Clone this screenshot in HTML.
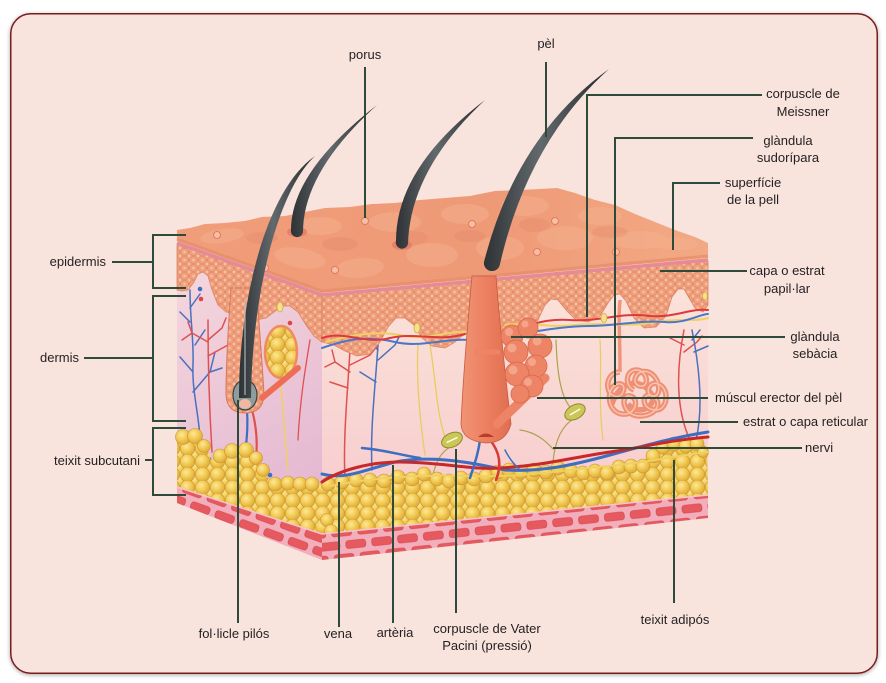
<!DOCTYPE html>
<html><head><meta charset="utf-8"><style>
html,body{margin:0;padding:0;background:#fff;}
svg{display:block}
text{font-family:"Liberation Sans",Arial,sans-serif;font-size:13px;fill:#231f20}
</style></head><body>
<svg width="886" height="683" viewBox="0 0 886 683" xmlns="http://www.w3.org/2000/svg">
<defs>
 <filter id="sh" x="-3%" y="-3%" width="106%" height="106%"><feDropShadow dx="0" dy="1" stdDeviation="2" flood-color="#000" flood-opacity="0.35"/></filter>
 <pattern id="cells" width="9" height="8" patternUnits="userSpaceOnUse">
  <rect width="9" height="8" fill="#e58a66"/>
  <g fill="#f0a27f" stroke="#dd8260" stroke-width=".5">
   <circle cx="0" cy="0" r="3.8"/><circle cx="9" cy="0" r="3.8"/><circle cx="0" cy="8" r="3.8"/><circle cx="9" cy="8" r="3.8"/><circle cx="4.5" cy="4" r="3.8"/>
  </g>
  <g fill="#f8c2a6"><circle cx="4.5" cy="4" r="1.2"/><circle cx="0" cy="0" r="1.2"/><circle cx="9" cy="0" r="1.2"/><circle cx="0" cy="8" r="1.2"/><circle cx="9" cy="8" r="1.2"/></g>
 </pattern>
 <radialGradient id="fatg" cx=".4" cy=".35" r=".65">
  <stop offset="0" stop-color="#fce89a"/><stop offset=".55" stop-color="#f2ca52"/><stop offset="1" stop-color="#dcaa3a"/>
 </radialGradient>
 <pattern id="fat" width="15" height="13" patternUnits="userSpaceOnUse">
  <rect width="15" height="13" fill="#d8a838"/>
  <g fill="url(#fatg)" stroke="#c99332" stroke-width=".6">
   <circle cx="0" cy="0" r="7.3"/><circle cx="15" cy="0" r="7.3"/><circle cx="0" cy="13" r="7.3"/><circle cx="15" cy="13" r="7.3"/><circle cx="7.5" cy="6.5" r="7.3"/>
  </g>
 </pattern>
 <pattern id="musF" width="26" height="26" patternUnits="userSpaceOnUse" patternTransform="rotate(-6)">
  <rect width="26" height="26" fill="#f2afbb"/>
  <g fill="#e65a5f" stroke="#cf4049" stroke-width=".6">
   <rect x="1" y="2" width="20" height="8" rx="3"/><rect x="14" y="15" width="20" height="8" rx="3"/><rect x="-12" y="15" width="20" height="8" rx="3"/>
  </g>
 </pattern>
 <pattern id="musL" width="26" height="26" patternUnits="userSpaceOnUse" patternTransform="rotate(20)">
  <rect width="26" height="26" fill="#f2afbb"/>
  <g fill="#e65a5f" stroke="#cf4049" stroke-width=".6">
   <rect x="1" y="2" width="20" height="8" rx="3"/><rect x="14" y="15" width="20" height="8" rx="3"/><rect x="-12" y="15" width="20" height="8" rx="3"/>
  </g>
 </pattern>
 <linearGradient id="lf" gradientUnits="userSpaceOnUse" x1="177" y1="280" x2="322" y2="480">
  <stop offset="0" stop-color="#f4d6dc"/><stop offset="1" stop-color="#e4b8d2"/>
 </linearGradient>
 <linearGradient id="ff" gradientUnits="userSpaceOnUse" x1="0" y1="300" x2="0" y2="520">
  <stop offset="0" stop-color="#fbe1d9"/><stop offset="1" stop-color="#f6cacc"/>
 </linearGradient>
 <linearGradient id="hg" x1="0" y1="0" x2="1" y2="0">
  <stop offset="0" stop-color="#2e3235"/><stop offset=".45" stop-color="#62696d"/><stop offset="1" stop-color="#25282a"/>
 </linearGradient>
 <linearGradient id="tg" gradientUnits="userSpaceOnUse" x1="177" y1="0" x2="708" y2="0">
  <stop offset="0" stop-color="#f09d79"/><stop offset=".6" stop-color="#ef9a76"/><stop offset="1" stop-color="#f3a985"/>
 </linearGradient>
 <linearGradient id="folg" x1="0" y1="0" x2="1" y2="0">
  <stop offset="0" stop-color="#f09474"/><stop offset=".5" stop-color="#ec8060"/><stop offset="1" stop-color="#e06e50"/>
 </linearGradient>
</defs>

<!-- card -->
<rect x="10.75" y="13.75" width="866.5" height="659.5" rx="20" fill="#f8e3dd" stroke="#7a1c1c" stroke-width="1.5" filter="url(#sh)"/>

<!-- faces -->
<polygon points="177,240 322,293 322,560 177,503" fill="url(#lf)"/>
<polygon points="322,293 708,258 708,518 322,560" fill="url(#ff)"/>

<!-- left face vessels -->
<g fill="none" stroke-linecap="round">
 <path d="M200,437 C198,410 192,390 193,365 C194,340 190,320 190,290 M193,372 L180,357 M193,392 L210,372 L215,352 M190,322 L180,312 M190,308 L200,294 M195,345 L205,330 M210,372 L222,368" stroke="#4a70c0" stroke-width="1.5"/>
 <path d="M212,452 C210,420 208,380 208,320 M208,342 L192,333 L182,340 M192,333 L188,322 M208,340 L222,328 M208,356 L228,345 L236,350 M222,328 L226,318" stroke="#e05050" stroke-width="1.5"/>
 <path d="M247,410 C248,425 247,435 246,446" stroke="#3e6ec0" stroke-width="2.2"/>
 <path d="M252,410 C256,425 258,440 256,458" stroke="#e05050" stroke-width="2.2"/>
 <path d="M280,372 C282,400 284,430 288,470" stroke="#f0d060" stroke-width="1.5"/>
 <path d="M310,340 C305,370 300,400 298,440" stroke="#e05050" stroke-width="1.3"/>
</g>
<g>
 <circle cx="200" cy="289" r="2.3" fill="#3e6ec0"/><circle cx="201" cy="299" r="2.3" fill="#e04545"/>
 <circle cx="290" cy="323" r="2.3" fill="#e04545"/><circle cx="288" cy="330" r="2.3" fill="#3e6ec0"/>
 <circle cx="209" cy="459" r="2.3" fill="#3e6ec0"/><circle cx="217" cy="457" r="2.3" fill="#e04545"/>
 <circle cx="265" cy="468" r="2.3" fill="#e04545"/><circle cx="270" cy="475" r="2.3" fill="#3e6ec0"/>
</g>

<!-- front dermis vessels / nerves -->
<g fill="none" stroke-linecap="round">
 <path d="M345,480 C343,440 347,400 350,350 M350,372 L335,362 L325,367 M348,388 L330,382 M350,365 L370,355 L378,345 M335,362 L332,350" stroke="#e05050" stroke-width="1.5"/>
 <path d="M372,470 C370,430 375,390 378,345 M378,360 L395,345 M376,382 L360,372 M378,350 L365,338 M395,345 L400,335" stroke="#4a70c0" stroke-width="1.5"/>
 <path d="M418,345 C416,380 420,420 425,455 M430,345 C436,380 436,410 445,437" stroke="#e8cc60" stroke-width="1.3"/>
 <path d="M452,446 C440,452 436,462 432,478 M575,418 C562,425 555,440 553,462 M570,407 C560,395 557,370 556,340 M553,449 C545,440 535,432 520,430" stroke="#aaa24e" stroke-width="1.2"/>
 <path d="M600,340 C602,370 598,400 603,440" stroke="#e8cc60" stroke-width="1.2"/>
 <path d="M684,330 C676,370 676,410 690,440 M684,345 L670,338 M684,352 L697,342 L702,336" stroke="#e05050" stroke-width="1.5"/>
 <path d="M692,330 C700,370 703,410 696,440 M692,340 L700,330 M694,352 L708,346" stroke="#4a70c0" stroke-width="1.5"/>
</g>

<!-- sweat gland -->
<path d="M620,300 C618,320 620,330 620,372" fill="none" stroke="#f0957c" stroke-width="3.5"/>
<g fill="none">
 <path d="M620,372 C606,372 604,392 614,396 C624,400 628,382 618,384 C606,386 606,412 622,414 C636,416 640,398 630,396 C620,394 622,416 640,416 C656,416 664,402 652,396 C642,391 640,410 656,410 C668,410 670,388 658,384 C648,380 644,396 654,396 C662,396 660,376 648,372 C636,368 630,384 640,386 C650,388 648,370 636,370 C626,370 624,386 634,390 M612,404 C620,380 640,378 650,392 C660,404 640,418 628,404" stroke="#ef8f74" stroke-width="5.5"/>
 <path d="M620,372 C606,372 604,392 614,396 C624,400 628,382 618,384 C606,386 606,412 622,414 C636,416 640,398 630,396 C620,394 622,416 640,416 C656,416 664,402 652,396 C642,391 640,410 656,410 C668,410 670,388 658,384 C648,380 644,396 654,396 C662,396 660,376 648,372 C636,368 630,384 640,386 C650,388 648,370 636,370 C626,370 624,386 634,390" stroke="#f9c6b2" stroke-width="1.4"/>
</g>

<!-- Pacini corpuscles -->
<g transform="translate(452,440) rotate(-25)"><ellipse rx="11" ry="7" fill="#cbc658" stroke="#8e8a30"/><line x1="-6" x2="6" y1="0" y2="0" stroke="#fffbe0" stroke-width="1.5"/></g>
<g transform="translate(575,412) rotate(-30)"><ellipse rx="11" ry="7" fill="#cbc658" stroke="#8e8a30"/><line x1="-6" x2="6" y1="0" y2="0" stroke="#fffbe0" stroke-width="1.5"/></g>

<!-- fat -->
<polygon points="322,485 330,478 340,480 350,476 362,480 372,476 385,478 397,472 410,476 422,470 435,476 447,478 460,474 472,476 485,472 497,468 507,466 520,469 533,466 545,468 557,464 570,468 582,470 594,468 606,470 618,464 630,462 642,463 652,452 660,443 672,440 684,442 695,440 707,447 708,495 322,534" fill="url(#fat)"/>
<polygon points="177,437 185,431 193,432 201,437 207,448 211,460 218,455 226,449 236,447 247,446 256,452 262,465 268,478 277,482 288,479 300,480 310,479 318,482 322,485 322,534 177,487" fill="url(#fat)"/>
<g fill="url(#fatg)" stroke="#c99332" stroke-width=".6">
 <circle cx="183" cy="437" r="7.5"/><circle cx="195" cy="436" r="7.5"/><circle cx="204" cy="446" r="6.5"/><circle cx="220" cy="456" r="7"/><circle cx="232" cy="451" r="7.5"/><circle cx="246" cy="450" r="7.5"/><circle cx="256" cy="458" r="6.5"/><circle cx="263" cy="470" r="6.5"/><circle cx="275" cy="484" r="7"/><circle cx="288" cy="483" r="7"/><circle cx="300" cy="484" r="7"/><circle cx="312" cy="484" r="7"/>
 <circle cx="328" cy="484" r="7"/><circle cx="342" cy="482" r="7"/><circle cx="356" cy="480" r="7"/><circle cx="370" cy="480" r="7"/><circle cx="384" cy="481" r="7"/><circle cx="398" cy="477" r="7"/><circle cx="412" cy="479" r="7"/><circle cx="424" cy="474" r="7"/><circle cx="437" cy="479" r="7"/><circle cx="449" cy="481" r="7"/><circle cx="461" cy="478" r="7"/><circle cx="474" cy="479" r="7"/><circle cx="486" cy="476" r="7"/><circle cx="498" cy="472" r="7"/><circle cx="509" cy="470" r="7"/><circle cx="521" cy="472" r="7"/><circle cx="534" cy="470" r="7"/><circle cx="546" cy="472" r="7"/><circle cx="558" cy="468" r="7"/><circle cx="571" cy="471" r="7"/><circle cx="583" cy="473" r="7"/><circle cx="595" cy="471" r="7"/><circle cx="607" cy="473" r="7"/><circle cx="619" cy="467" r="7"/><circle cx="631" cy="466" r="7"/><circle cx="643" cy="466" r="7"/><circle cx="653" cy="456" r="7"/><circle cx="663" cy="447" r="7"/><circle cx="674" cy="444" r="7"/><circle cx="686" cy="446" r="7"/><circle cx="697" cy="444" r="7"/><circle cx="703" cy="452" r="5.5"/>
 <circle cx="327" cy="520" r="6.5"/><circle cx="331" cy="531" r="6.5"/>
</g>

<!-- lower vessels -->
<g fill="none" stroke-linecap="round">
 <path d="M330,486 C370,478 420,474 470,476 C520,478 560,470 610,466 C650,462 680,455 708,452" stroke="#f0d060" stroke-width="2"/>
 <path d="M322,474 C345,480 365,470 395,462 C430,455 470,462 505,470 C540,472 570,466 610,455 C640,447 670,438 708,432" stroke="#3e6ec0" stroke-width="3"/>
 <path d="M362,448 C385,450 400,455 420,458" stroke="#3e6ec0" stroke-width="2.5"/>
 <path d="M322,482 C340,470 370,462 400,462 C440,462 470,470 500,468 C540,466 570,458 610,452 C640,448 670,440 708,437" stroke="#c8282a" stroke-width="3"/>
 <path d="M480,440 C478,455 474,465 470,478" stroke="#3e6ec0" stroke-width="2.5"/>
 <path d="M490,440 C500,452 502,465 496,480" stroke="#d83a3a" stroke-width="2.5"/>
 <path d="M505,450 C510,460 515,465 520,470" stroke="#3e6ec0" stroke-width="1.5"/>
</g>

<!-- muscle -->
<polygon points="322,534 708,495 708,518 322,560" fill="url(#musF)"/>
<polygon points="177,487 322,534 322,560 177,503" fill="url(#musL)"/>
<path d="M177,487 L322,534 L708,495" fill="none" stroke="#f6c4cd" stroke-width="1.5"/>

<!-- epidermis -->
<path d="M177,244 L322,296 L322,342 L314,336 L306,325 L298,312 L290,306 L282,306 L274,312 L266,318 L256,320 L246,318 L236,314 L226,312 L218,305 L212,290 L208,276 L203,272 L198,274 L194,282 L188,290 L182,291 L177,290 Z" fill="url(#cells)" stroke="#dc8463" stroke-width=".8" stroke-linejoin="round"/>
<path d="M322,296 L708,261 L708,305 L703,312 L695,308 L688,296 L684,289 L678,289 L672,297 L666,316 L656,327 L644,328 L634,318 L626,301 L620,294 L614,295 L608,303 L600,316 L588,322 L576,320 L566,310 L558,300 L551,299 L545,305 L538,320 L528,330 L515,331 L500,332 L480,332 L470,332 L462,336 L455,342 L445,348 L432,346 L422,338 L414,325 L405,318 L396,318 L388,327 L380,342 L370,354 L357,356 L345,351 L334,345 L322,342 Z" fill="url(#cells)" stroke="#dc8463" stroke-width=".8" stroke-linejoin="round"/>

<!-- top surface -->
<polygon points="177,230 190,228 205,224 225,223 245,221 262,217 285,216 305,212 325,208 350,207 372,204 395,203 420,200 445,198 470,196 495,191 520,190 540,189 557,188 575,193 595,200 615,205 635,214 655,222 675,230 695,237 708,243 708,258 322,293 177,241" fill="url(#tg)"/>
<g fill="#f5b391" opacity=".45">
 <ellipse cx="222" cy="236" rx="22" ry="7" transform="rotate(-8 222 236)"/>
 <ellipse cx="300" cy="258" rx="26" ry="10" transform="rotate(10 300 258)"/>
 <ellipse cx="320" cy="226" rx="22" ry="9"/>
 <ellipse cx="360" cy="268" rx="24" ry="10" transform="rotate(-5 360 268)"/>
 <ellipse cx="395" cy="222" rx="26" ry="10"/>
 <ellipse cx="432" cy="255" rx="26" ry="12"/>
 <ellipse cx="465" cy="214" rx="24" ry="10"/>
 <ellipse cx="500" cy="248" rx="24" ry="12"/>
 <ellipse cx="525" cy="206" rx="24" ry="10"/>
 <ellipse cx="565" cy="238" rx="28" ry="12"/>
 <ellipse cx="600" cy="216" rx="22" ry="9"/>
 <ellipse cx="640" cy="240" rx="28" ry="9"/>
 <ellipse cx="676" cy="244" rx="22" ry="6"/>
</g>
<g fill="#e0856a" opacity=".3">
 <ellipse cx="262" cy="238" rx="16" ry="6"/>
 <ellipse cx="340" cy="244" rx="18" ry="7"/>
 <ellipse cx="412" cy="238" rx="16" ry="7"/>
 <ellipse cx="470" cy="236" rx="16" ry="6"/>
 <ellipse cx="535" cy="225" rx="16" ry="7"/>
 <ellipse cx="610" cy="232" rx="18" ry="6"/>
</g>
<path d="M177,239 L322,291 L708,256" fill="none" stroke="#e78f6b" stroke-width="3" opacity=".8"/>
<path d="M177,243 L322,295 L708,260" fill="none" stroke="#e48a98" stroke-width="3.5"/>

<!-- upper plexus -->
<g fill="none" stroke-linecap="round" stroke-width="2">
 <path d="M326,342 C350,335 380,330 405,336 C430,340 450,330 470,332 M505,325 C530,322 550,328 575,325 C600,322 630,328 655,322 C680,318 695,322 708,318" stroke="#f0d060"/>
 <path d="M322,348 C345,340 365,335 395,342 C420,348 445,338 470,340 M505,336 C530,333 560,326 590,326 C615,326 640,320 665,322 C685,324 700,314 708,314" stroke="#4a78c8"/>
 <path d="M322,338 C345,330 365,345 390,338 C415,332 440,342 465,334 M505,330 C530,326 545,318 570,320 C600,322 620,312 650,316 C675,318 690,308 708,310" stroke="#dc3a3a"/>
</g>
<g fill="#f6e08a" stroke="#c9a83a" stroke-width=".7">
 <ellipse cx="417" cy="328" rx="3" ry="5"/><ellipse cx="280" cy="307" rx="3" ry="5"/><ellipse cx="604" cy="318" rx="3" ry="4.5"/><ellipse cx="705" cy="296" rx="2.5" ry="4"/>
</g>

<!-- left follicle -->
<path d="M231,288 L257,288 C259,330 263,370 264,395 Q263,413 245,413 Q227,413 226,395 C226,370 228,330 231,288 Z" fill="url(#cells)" stroke="#d9785a" stroke-width="1"/>
<ellipse cx="245" cy="395" rx="12" ry="15" fill="#8d9c9c" stroke="#3a4244" stroke-width="1.2"/>
<ellipse cx="245" cy="404" rx="6" ry="5" fill="#f0b8a0"/>
<!-- left sebaceous gland -->
<ellipse cx="281" cy="352" rx="16" ry="26" fill="url(#fat)" stroke="#ee8c5f" stroke-width="2.5"/>
<path d="M262,398 L298,368" stroke="#ee6e55" stroke-width="6" stroke-linecap="round"/>

<!-- big follicle -->
<path d="M472,276 L496,276 C500,330 506,380 511,424 Q506,443 486,443 Q462,441 461,424 C463,380 467,330 472,276 Z" fill="url(#folg)" stroke="#c95a3e" stroke-width=".8"/>
<path d="M478,437 Q486,430 494,437" fill="#b83c2c"/>
<path d="M478,352 L500,352" stroke="#ee8466" stroke-width="5"/>
<circle cx="478" cy="352" r="4" fill="#ee8466"/>
<path d="M497,424 L545,378" stroke="#ee8466" stroke-width="9" stroke-linecap="round"/>
<g fill="#ee8466" stroke="#d8684a" stroke-width=".8">
 <circle cx="512" cy="336" r="11"/><circle cx="528" cy="328" r="10"/><circle cx="540" cy="346" r="12"/><circle cx="516" cy="352" r="12"/><circle cx="536" cy="366" r="11"/><circle cx="517" cy="374" r="12"/><circle cx="532" cy="386" r="11"/><circle cx="520" cy="394" r="9"/>
</g>
<g fill="#f6ae92" opacity=".8">
 <circle cx="509" cy="332" r="4"/><circle cx="525" cy="324" r="3.5"/><circle cx="537" cy="341" r="4.5"/><circle cx="512" cy="348" r="4.5"/><circle cx="532" cy="362" r="4"/><circle cx="513" cy="370" r="4.5"/><circle cx="528" cy="382" r="4"/>
</g>

<!-- pores -->
<g fill="#f7c0a4" stroke="#e37a62" stroke-width="1">
 <circle cx="217" cy="235" r="3.5"/><circle cx="265" cy="268" r="3.5"/><circle cx="335" cy="270" r="3.5"/><circle cx="365" cy="221" r="3.5"/><circle cx="472" cy="224" r="3.5"/><circle cx="555" cy="221" r="3.5"/><circle cx="537" cy="252" r="3.5"/><circle cx="616" cy="252" r="3.5"/>
</g>
<ellipse cx="297" cy="232" rx="10" ry="5" fill="#e5806a"/>
<ellipse cx="402" cy="245" rx="10" ry="5" fill="#e5806a"/>

<!-- hairs -->
<path d="M377,105 Q291,172 291,230 A6,6 0 0 0 303,232 Q303,172 377,105 Z" fill="url(#hg)"/>
<path d="M485,100 Q396,168 396,241 A6,6 0 0 0 408,244 Q410,170 485,100 Z" fill="url(#hg)"/>
<path d="M609,69 Q516,136 484,262 A8,8 0 0 0 500,264 Q528,142 609,69 Z" fill="url(#hg)"/>
<path d="M315,156 C266,190 239,300 239,398 L251,398 C252,300 276,192 315,156 Z" fill="url(#hg)"/>
<path d="M245,300 L245,395" stroke="#b9c4c6" stroke-width="1.5" opacity=".7"/>

<!-- label lines -->
<g fill="none" stroke="#2e4a3a" stroke-width="2">
 <path d="M365,67 V218"/>
 <path d="M546,62 V137"/>
 <path d="M762,95 H587 V317"/>
 <path d="M753,138 H615 V385"/>
 <path d="M720,183 H673 V250"/>
 <path d="M660,271 H747"/>
 <path d="M511,337 H785"/>
 <path d="M537,398 H708"/>
 <path d="M640,422 H738"/>
 <path d="M553,448 H802"/>
 <path d="M674,460 V603"/>
 <path d="M456,449 V613"/>
 <path d="M393,465 V623"/>
 <path d="M339,482 V627"/>
 <path d="M238,400 V623"/>
 <path d="M186,235 H153 V288 H186 M112,262 H153"/>
 <path d="M186,296 H153 V421 H186 M84,358 H153"/>
 <path d="M186,428 H153 V495 H186 M145,460 H153"/>
</g>

<!-- labels -->
<text x="365" y="59" text-anchor="middle">porus</text>
<text x="546" y="48" text-anchor="middle">pèl</text>
<text x="803" y="98" text-anchor="middle">corpuscle de</text>
<text x="803" y="116" text-anchor="middle">Meissner</text>
<text x="788" y="145" text-anchor="middle">glàndula</text>
<text x="788" y="162" text-anchor="middle">sudorípara</text>
<text x="753" y="187" text-anchor="middle">superfície</text>
<text x="753" y="204" text-anchor="middle">de la pell</text>
<text x="787" y="275" text-anchor="middle">capa o estrat</text>
<text x="787" y="293" text-anchor="middle">papil·lar</text>
<text x="815" y="341" text-anchor="middle">glàndula</text>
<text x="815" y="358" text-anchor="middle">sebàcia</text>
<text x="715" y="402">múscul erector del pèl</text>
<text x="743" y="426">estrat o capa reticular</text>
<text x="805" y="452">nervi</text>
<text x="675" y="624" text-anchor="middle">teixit adipós</text>
<text x="487" y="633" text-anchor="middle">corpuscle de Vater</text>
<text x="487" y="650" text-anchor="middle">Pacini (pressió)</text>
<text x="395" y="637" text-anchor="middle">artèria</text>
<text x="338" y="638" text-anchor="middle">vena</text>
<text x="234" y="638" text-anchor="middle">fol·licle pilós</text>
<text x="106" y="266" text-anchor="end">epidermis</text>
<text x="79" y="362" text-anchor="end">dermis</text>
<text x="140" y="465" text-anchor="end">teixit subcutani</text>
</svg>
</body></html>
